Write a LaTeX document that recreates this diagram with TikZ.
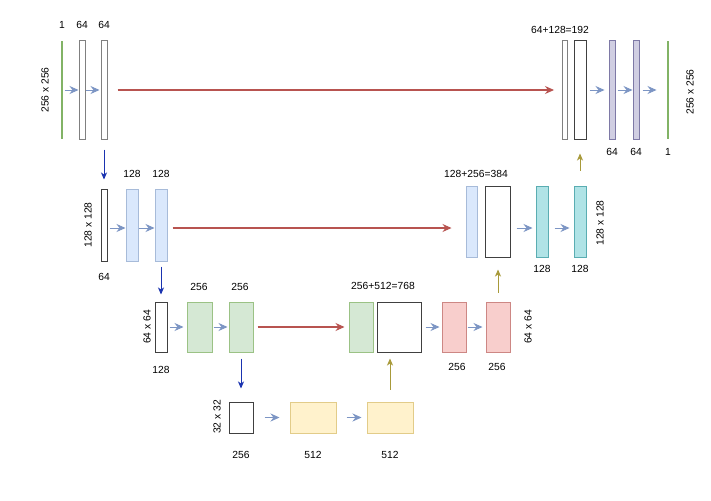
\documentclass[tikz,border=0pt]{standalone}
\usepackage{fontspec}
\setmainfont{Liberation Sans}
\usetikzlibrary{arrows.meta}
\definecolor{GreenFill}{HTML}{D5E8D4}
\definecolor{GreenLine}{HTML}{82B366}
\definecolor{BlueFill}{HTML}{DAE8FC}
\definecolor{BlueLine}{HTML}{6C8EBF}
\definecolor{TealFill}{HTML}{B0E3E6}
\definecolor{TealLine}{HTML}{5AADB2}
\definecolor{PurpleFill}{HTML}{D0CEE2}
\definecolor{PurpleLine}{HTML}{7E79A6}
\definecolor{RedFill}{HTML}{F8CECC}
\definecolor{RedLine}{HTML}{B85450}
\definecolor{YellowFill}{HTML}{FFF2CC}
\definecolor{YellowLine}{HTML}{D6B656}
\definecolor{DownBlue}{HTML}{1A33B0}
\definecolor{UpOlive}{HTML}{A89A3A}
\definecolor{FlowBlue}{HTML}{7C95C4}

\tikzset{
  layer/.style={rectangle, inner sep=0pt, line width=1pt},
  whitebox/.style={layer, draw=gray, fill=white},
  blackbox/.style={layer, draw=black!75, fill=white, line width=1pt},
  greenbox/.style={layer, draw=GreenLine!80, fill=GreenFill},
  bluebox/.style={layer, draw=BlueLine!60, fill=BlueFill},
  tealbox/.style={layer, draw=TealLine, fill=TealFill},
  purplebox/.style={layer, draw=PurpleLine, fill=PurpleFill},
  redbox/.style={layer, draw=RedLine!70, fill=RedFill},
  yellowbox/.style={layer, draw=YellowLine!70, fill=YellowFill},
  gline/.style={layer, fill=GreenLine, minimum width=2pt},
  flow/.style={FlowBlue, line width=0.9pt, -{Stealth[length=9pt,width=8pt,inset=3pt]}},
  skip/.style={RedLine, line width=1.1pt, -{Stealth[length=9pt,width=8pt,inset=3pt]}},
  pool/.style={DownBlue, line width=0.9pt, -{Stealth[length=7pt,width=6pt,inset=2pt]}},
  up/.style={UpOlive, line width=0.8pt, -{Stealth[length=7pt,width=6pt,inset=2pt]}},
  lbl/.style={font=\fontsize{10.3}{12}\selectfont, inner sep=0pt},
}

\begin{document}
\begin{tikzpicture}[x=1pt, y=-1pt]
\useasboundingbox[fill=white] (0,0) rectangle (711,500);

% level 1
\node[gline, minimum height=98] (r1in) at (62,90) {};
\node[whitebox, minimum width=6, minimum height=98] (r1a) at (82,90) {};
\node[whitebox, minimum width=6, minimum height=98] (r1b) at (104,90) {};
\node[whitebox, minimum width=5, minimum height=98] (r1c) at (565,90) {};
\node[blackbox, minimum width=12, minimum height=98] (r1d) at (580,90) {};
\node[purplebox, minimum width=6, minimum height=98] (r1e) at (612,90) {};
\node[purplebox, minimum width=6, minimum height=98] (r1f) at (636,90) {};
\node[gline, minimum height=98] (r1out) at (668,90) {};

% level 2
\node[blackbox, minimum width=6, minimum height=72] (r2a) at (104,225) {};
\node[bluebox, minimum width=12, minimum height=72] (r2b) at (132,225) {};
\node[bluebox, minimum width=12, minimum height=72] (r2c) at (161,225) {};
\node[bluebox, minimum width=11, minimum height=71] (r2d) at (471.5,221.5) {};
\node[blackbox, minimum width=25, minimum height=71] (r2e) at (497.5,221.5) {};
\node[tealbox, minimum width=12, minimum height=71] (r2f) at (542,221.5) {};
\node[tealbox, minimum width=12, minimum height=71] (r2g) at (580,221.5) {};
\coordinate (r2y) at (0,228);

% level 3
\node[blackbox, minimum width=12, minimum height=50] (r3a) at (161,327) {};
\node[greenbox, minimum width=25, minimum height=50] (r3b) at (199.5,327) {};
\node[greenbox, minimum width=24, minimum height=50] (r3c) at (241,327) {};
\node[greenbox, minimum width=24, minimum height=50] (r3d) at (361,327) {};
\node[blackbox, minimum width=44, minimum height=50] (r3e) at (399,327) {};
\node[redbox, minimum width=24, minimum height=50] (r3f) at (454,327) {};
\node[redbox, minimum width=24, minimum height=50] (r3g) at (498,327) {};

% level 4
\node[blackbox, minimum width=24, minimum height=31] (r4a) at (241,417.5) {};
\node[yellowbox, minimum width=46, minimum height=31] (r4b) at (313,417.5) {};
\node[yellowbox, minimum width=46, minimum height=31] (r4c) at (390,417.5) {};

% horizontal arrows
\draw[flow, shorten <=1pt] (r1in.east) -- (r1a.west);
\draw[flow, shorten >=1pt] (r1a.east) -- (r1b.west);
\draw[skip, shorten <=10pt, shorten >=8pt] (r1b.east) -- (r1c.west);
\draw[flow, shorten <=3pt, shorten >=4pt] (r1d.east) -- (r1e.west);
\draw[flow, shorten <=2pt] (r1e.east) -- (r1f.west);
\draw[flow, shorten <=3pt, shorten >=10pt] (r1f.east) -- (r1out.west);

\draw[flow, shorten <=2pt] (r2a.east |- r2y) -- (r2b.west |- r2y);
\draw[flow, shorten <=0pt] (r2b.east |- r2y) -- (r2c.west |- r2y);
\draw[skip, shorten <=5pt, shorten >=14pt] (r2c.east |- r2y) -- (r2d.west |- r2y);
\draw[flow, shorten <=6pt, shorten >=3pt] (r2e.east |- r2y) -- (r2f.west |- r2y);
\draw[flow, shorten <=6pt, shorten >=4pt] (r2f.east |- r2y) -- (r2g.west |- r2y);

\draw[flow, shorten <=2pt, shorten >=3pt] (r3a.east) -- (r3b.west);
\draw[flow, shorten <=1pt, shorten >=1pt] (r3b.east) -- (r3c.west);
\draw[skip, shorten <=4pt, shorten >=4pt] (r3c.east) -- (r3d.west);
\draw[flow, shorten <=4pt, shorten >=2pt] (r3e.east) -- (r3f.west);
\draw[flow, shorten <=1pt, shorten >=3pt] (r3f.east) -- (r3g.west);

\draw[flow, shorten <=11pt, shorten >=10pt] (r4a.east) -- (r4b.west);
\draw[flow, shorten <=10pt, shorten >=5pt] (r4b.east) -- (r4c.west);

% down / up
\draw[pool, shorten <=10pt, shorten >=9pt] (r1b.south) -- (r2a.north);
\draw[pool, shorten <=5pt, shorten >=7pt] (r2c.south) -- (r3a.north);
\draw[pool, shorten <=6pt, shorten >=13pt] (r3c.south) -- (r4a.north);
\draw[up, shorten <=12pt, shorten >=6pt] (r4c.north) -- (r4c.north |- r3e.south);
\draw[up, shorten <=9pt, shorten >=12pt] (r3g.north) -- (r3g.north |- r2e.south);
\draw[up, shorten <=15pt, shorten >=14pt] (r2g.north) -- (r2g.north |- r1d.south);

% channel labels
\node[lbl] (c1) at (62,25) {1};
\node[lbl] (c2) at (82,25) {64};
\node[lbl] (c3) at (104,25) {64};
\node[lbl] (c4) at (560,30) {64+128=192};
\node[lbl] (c5) at (612,152) {64};
\node[lbl] (c6) at (636,152) {64};
\node[lbl] (c7) at (668,152) {1};
\node[lbl] (c8) at (132,174) {128};
\node[lbl] (c9) at (161,174) {128};
\node[lbl] (c10) at (104,277) {64};
\node[lbl] (c11) at (476,174) {128+256=384};
\node[lbl] (c12) at (542,269) {128};
\node[lbl] (c13) at (580,269) {128};
\node[lbl] (c14) at (199,287) {256};
\node[lbl] (c15) at (240,287) {256};
\node[lbl] (c16) at (161,370) {128};
\node[lbl] (c17) at (383,286) {256+512=768};
\node[lbl] (c18) at (457,367) {256};
\node[lbl] (c19) at (497,367) {256};
\node[lbl] (c20) at (241,455) {256};
\node[lbl] (c21) at (313,455) {512};
\node[lbl] (c22) at (390,455) {512};

% resolution labels
\node[lbl, rotate=90] (s1) at (45,90) {256 x 256};
\node[lbl, rotate=90] (s2) at (690,92) {256 x 256};
\node[lbl, rotate=90] (s3) at (88,225) {128 x 128};
\node[lbl, rotate=90] (s4) at (600,223) {128 x 128};
\node[lbl, rotate=90] (s5) at (147,327) {64 x 64};
\node[lbl, rotate=90] (s6) at (528,327) {64 x 64};
\node[lbl, rotate=90] (s7) at (217,417) {32 x 32};
\end{tikzpicture}
\end{document}
